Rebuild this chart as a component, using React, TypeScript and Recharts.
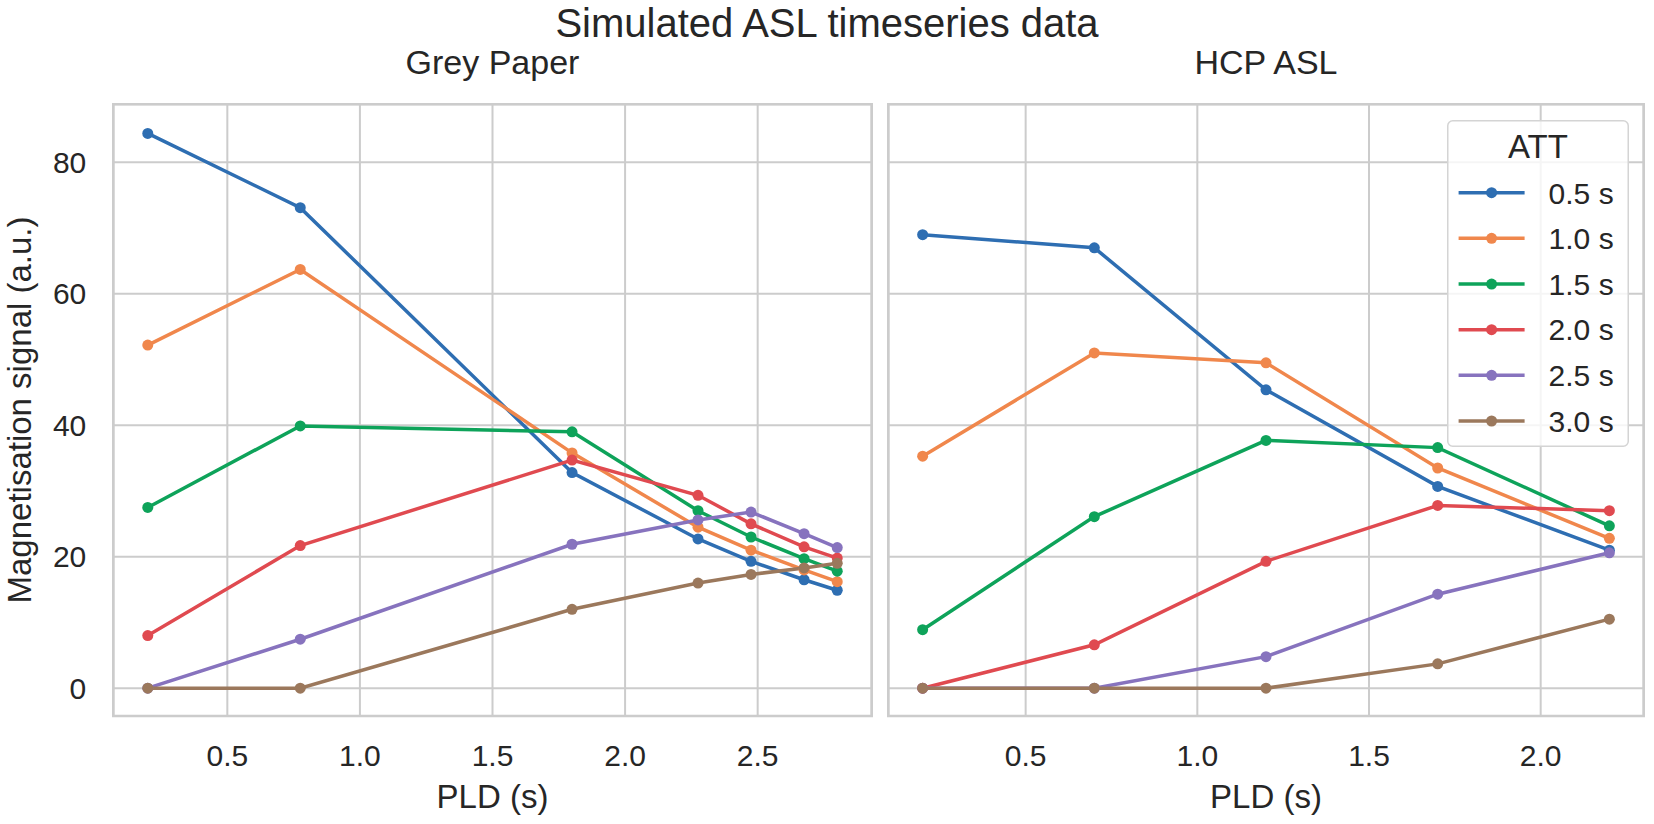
import React from 'react';
import { LineChart, Line, XAxis, YAxis, CartesianGrid, ReferenceArea, Legend } from 'recharts';

// ---- data ----
const attLabels = ['0.5 s', '1.0 s', '1.5 s', '2.0 s', '2.5 s', '3.0 s'];
const seriesKeys = ['a05', 'a10', 'a15', 'a20', 'a25', 'a30'];
const colors = ['#2e6eb2', '#f0874c', '#0ea35a', '#e04a50', '#8773be', '#9b785c'];

const greyPld = [0.2, 0.775, 1.8, 2.275, 2.475, 2.675, 2.8];
const grey05 = [84.4, 73.1, 32.8, 22.7, 19.3, 16.5, 14.9];
const grey10 = [52.2, 63.7, 35.8, 24.5, 21.0, 18.0, 16.2];
const grey15 = [27.5, 39.9, 39.0, 27.0, 23.0, 19.7, 17.8];
const grey20 = [8.0, 21.7, 34.7, 29.35, 25.0, 21.5, 19.8];
const grey25 = [0, 7.45, 21.9, 25.6, 26.8, 23.5, 21.4];
const grey30 = [0, 0, 12.0, 16.0, 17.3, 18.3, 19.0];

const hcpPld = [0.2, 0.7, 1.2, 1.7, 2.2];
const hcp05 = [69.0, 67.0, 45.4, 30.7, 21.0];
const hcp10 = [35.3, 51.0, 49.5, 33.5, 22.8];
const hcp15 = [8.9, 26.1, 37.7, 36.6, 24.7];
const hcp20 = [0, 6.6, 19.3, 27.8, 27.0];
const hcp25 = [0, 0, 4.8, 14.3, 20.6];
const hcp30 = [0, 0, 0, 3.7, 10.5];

const greyXTicks = [0.5, 1.0, 1.5, 2.0, 2.5];
const hcpXTicks = [0.5, 1.0, 1.5, 2.0];
const yTicks = [0, 20, 40, 60, 80];

const greyXDomain: [number, number] = [0.07, 2.93];
const hcpXDomain: [number, number] = [0.1, 2.3];
const yDomain: [number, number] = [-4.23, 88.83];

const buildRows = (pld: number[], series: number[][]) =>
  pld.map((p, i) => {
    const row: Record<string, number> = { pld: p };
    seriesKeys.forEach((k, j) => {
      row[k] = series[j][i];
    });
    return row;
  });

const greyData = buildRows(greyPld, [grey05, grey10, grey15, grey20, grey25, grey30]);
const hcpData = buildRows(hcpPld, [hcp05, hcp10, hcp15, hcp20, hcp25, hcp30]);

const FONT = '"Liberation Sans", Arial, Helvetica, sans-serif';
const TEXT = '#262626';
const GRID = '#cccccc';

const renderLines = () =>
  seriesKeys.map((k, i) => (
    <Line
      key={k}
      type="linear"
      dataKey={k}
      name={attLabels[i]}
      stroke={colors[i]}
      strokeWidth={3.5}
      dot={{ r: 5.5, fill: colors[i], stroke: colors[i], strokeWidth: 0 }}
      activeDot={false}
      isAnimationActive={false}
    />
  ));

const LegendBox = (props: any) => {
  const payload = (props.payload || []) as any[];
  const w = 182;
  const h = 327;
  return (
    <svg width={w} height={h} style={{ display: 'block', fontFamily: FONT }}>
      <rect x={0.75} y={0.75} width={w - 1.5} height={h - 1.5} rx={5} ry={5}
        fill="#ffffff" fillOpacity={0.8} stroke="#d4d4d4" strokeWidth={1.5} />
      <text x={w / 2} y={38.3} textAnchor="middle" fontSize={33} fill={TEXT}>ATT</text>
      {payload.map((p, i) => {
        const cy = 72.7 + i * 45.66;
        return (
          <g key={i}>
            <line x1={11.6} x2={77.6} y1={cy} y2={cy} stroke={p.color} strokeWidth={3.5} />
            <circle cx={44.6} cy={cy} r={5.5} fill={p.color} />
            <text x={101.6} y={cy} dy="0.36em" fontSize={30} fill={TEXT}>{p.value}</text>
          </g>
        );
      })}
    </svg>
  );
};

export default function App() {
  return (
    <div style={{ position: 'absolute', left: 0, top: 0, width: 1654, height: 824, background: '#ffffff', fontFamily: FONT, overflow: 'hidden' }}>
      <div style={{ position: 'absolute', left: 0, top: 0 }}>
        <LineChart width={880} height={824} data={greyData} margin={{ top: 104.3, right: 8.3, bottom: 0, left: 0 }}>
          <CartesianGrid stroke={GRID} strokeWidth={2} />
          <ReferenceArea x1={greyXDomain[0]} x2={greyXDomain[1]} y1={yDomain[0]} y2={yDomain[1]}
            fill="none" fillOpacity={0} stroke={GRID} strokeWidth={2.6} />
          <XAxis type="number" dataKey="pld" domain={greyXDomain} ticks={greyXTicks} allowDataOverflow
            tickFormatter={(v: number) => v.toFixed(1)} axisLine={false} tickLine={false} tickSize={0} tickMargin={29}
            height={108} tick={{ fontSize: 30, fill: TEXT, fontFamily: FONT }} interval={0} />
          <YAxis type="number" domain={yDomain} ticks={yTicks} allowDataOverflow width={113.3}
            axisLine={false} tickLine={false} tickSize={0} tickMargin={27}
            tick={{ fontSize: 30, fill: TEXT, fontFamily: FONT }} interval={0} />
          {renderLines()}
        </LineChart>
      </div>
      <div style={{ position: 'absolute', left: 880, top: 0 }}>
        <LineChart width={774} height={824} data={hcpData} margin={{ top: 104.3, right: 10.3, bottom: 0, left: 8.3 }}>
          <CartesianGrid stroke={GRID} strokeWidth={2} />
          <ReferenceArea x1={hcpXDomain[0]} x2={hcpXDomain[1]} y1={yDomain[0]} y2={yDomain[1]}
            fill="none" fillOpacity={0} stroke={GRID} strokeWidth={2.6} />
          <XAxis type="number" dataKey="pld" domain={hcpXDomain} ticks={hcpXTicks} allowDataOverflow
            tickFormatter={(v: number) => v.toFixed(1)} axisLine={false} tickLine={false} tickSize={0} tickMargin={29}
            height={108} tick={{ fontSize: 30, fill: TEXT, fontFamily: FONT }} interval={0} />
          <YAxis type="number" domain={yDomain} ticks={yTicks} allowDataOverflow width={0}
            axisLine={false} tickLine={false} tickSize={0} tickFormatter={() => ''} interval={0} />
          {renderLines()}
          <Legend layout="vertical" align="center" verticalAlign="middle"
            wrapperStyle={{ position: 'absolute', left: 566.7, top: 120, width: 182, height: 327 }}
            content={<LegendBox />} />
        </LineChart>
      </div>
      <svg width={1654} height={824} style={{ position: 'absolute', left: 0, top: 0, pointerEvents: 'none', fontFamily: FONT }}>
        <text x={827} y={37} textAnchor="middle" fontSize={40} fill={TEXT}>Simulated ASL timeseries data</text>
        <text x={492.5} y={74} textAnchor="middle" fontSize={34} fill={TEXT}>Grey Paper</text>
        <text x={1266} y={74} textAnchor="middle" fontSize={34} fill={TEXT}>HCP ASL</text>
        <text x={492.5} y={808} textAnchor="middle" fontSize={33} fill={TEXT}>PLD (s)</text>
        <text x={1266} y={808} textAnchor="middle" fontSize={33} fill={TEXT}>PLD (s)</text>
        <text transform="translate(31, 410) rotate(-90)" textAnchor="middle" fontSize={33} fill={TEXT}>Magnetisation signal (a.u.)</text>
      </svg>
    </div>
  );
}
